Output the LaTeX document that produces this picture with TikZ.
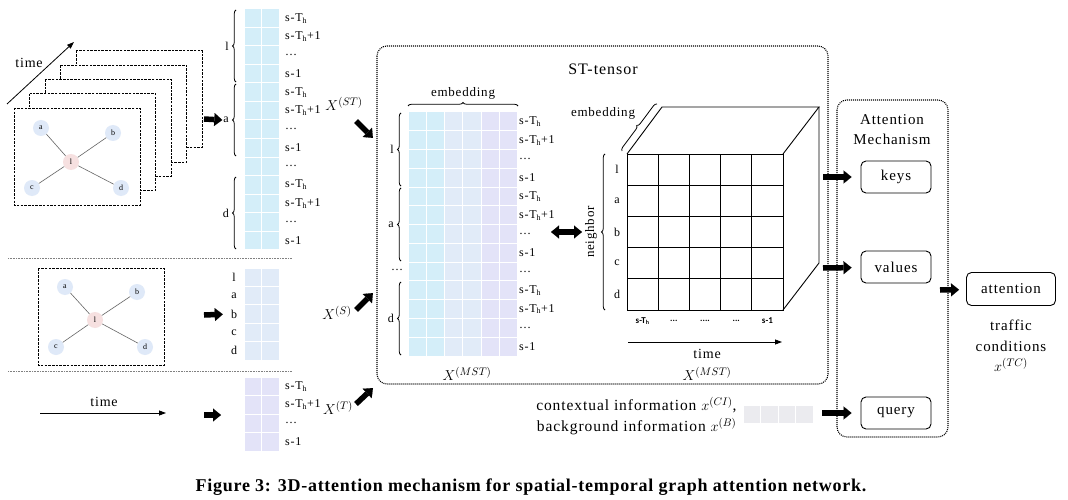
\documentclass[tikz,border=0pt]{standalone}
\usepackage{fontspec}
\setmainfont{Liberation Serif}[LetterSpace=6]
\newfontfamily\capfont{Liberation Serif}[LetterSpace=4]
\newfontfamily\tickfont{Carlito}
\usetikzlibrary{arrows.meta,decorations.pathreplacing,positioning}

\definecolor{cellcyan}{HTML}{D4EEF9}
\definecolor{cellblue}{HTML}{E1EBF8}
\definecolor{cellviolet}{HTML}{E3E3F8}
\definecolor{cellgray}{HTML}{EBEBEF}
\definecolor{vtxblue}{HTML}{DFE9F8}
\definecolor{vtxpink}{HTML}{F6E0E0}
\newcommand\tdots{...}
\newcommand\qdots{....}

\tikzset{
  vtx/.style={circle,fill=vtxblue,minimum size=16pt,inner sep=0pt,font=\fontsize{8}{9}\selectfont},
  hub/.style={vtx,fill=vtxpink},
  edge/.style={draw=black!60,line width=0.6pt},
  frame/.style={draw,fill=white,line width=0.8pt,dash pattern=on 2.5pt off 1.2pt},
  sep/.style={draw=gray,line width=0.6pt,dash pattern=on 0.8pt off 0.8pt},
  panel/.style={draw,line width=1.1pt,dash pattern=on 1pt off 1pt,rounded corners=10pt},
  cell/.style={draw=white,line width=1pt},
  fat/.style={line width=5.5pt,-{Triangle[length=8pt,width=13pt,line width=0.1pt]}},
  fatboth/.style={line width=5.5pt,{Triangle[length=8pt,width=13pt,line width=0.1pt]}-{Triangle[length=8pt,width=13pt,line width=0.1pt]}},
  grp/.style={decorate,decoration={brace,amplitude=3.5pt},line width=0.8pt},
  lab/.style={font=\fontsize{12}{13}\selectfont,anchor=west,inner sep=0pt},
  side/.style={font=\fontsize{12}{13}\selectfont,inner sep=1pt},
  mathlab/.style={font=\fontsize{15}{16}\selectfont,inner sep=0pt},
  word/.style={font=\fontsize{14}{16}\selectfont,inner sep=0pt},
  box/.style={draw,rounded corners=5pt,line width=0.9pt,minimum width=70pt,minimum height=32pt,font=\fontsize{15}{16}\selectfont},
  cubeline/.style={line width=0.9pt},
}

\begin{document}
\begin{tikzpicture}[x=1pt,y=-1pt]
\useasboundingbox (0,0) rectangle (1068,500);

% snapshots over time
\foreach \k in {4,3,2,1}
  \draw[frame] (14+15.5*\k,108-14.3*\k) rectangle ++(126,97);
\draw[frame] (14,108) rectangle ++(126,97);
\node[hub] (l1) at (71,162) {l};
\node[vtx] (a1) at (41,128) {a};
\node[vtx] (b1) at (113,133) {b};
\node[vtx] (c1) at (32,188) {c};
\node[vtx] (d1) at (121,188) {d};
\foreach \v in {a1,b1,c1,d1}
  \draw[edge] (l1) -- (\v);
\coordinate (tl1) at (7,104);
\coordinate (tl2) at (74,42);
\draw[line width=0.8pt,-{Triangle[length=7pt,width=5pt]}] (tl1) -- (tl2);
\node[word] (tlab1) at (29,63) {time};

% X^(ST)
\foreach \r in {0,...,12}
  \foreach \c in {0,1}
    \filldraw[cell,fill=cellcyan] (244+17.5*\c,9+18.5*\r) rectangle ++(17.5,18.5);
\foreach \t [count=\r from 0] in {s-T\textsubscript{h},s-T\textsubscript{h}+1,\dots,s-1,s-T\textsubscript{h},s-T\textsubscript{h}+1,\dots,s-1,\dots,s-T\textsubscript{h},s-T\textsubscript{h}+1,\dots,s-1}
  \node[lab] (st\r) at (285,18.25+18.5*\r) {\t};
\draw[grp] (236,82) -- (236,10);
\draw[grp] (236,156) -- (236,84);
\draw[grp] (236,249) -- (236,177);
\node[side,anchor=east] (gl) at (230,46) {l};
\node[side,anchor=east] (ga) at (230,120) {a};
\node[side,anchor=east] (gd) at (230,213) {d};
\coordinate (inST) at (204,119);
\draw[fat] (inST) -- (ga.west);
\node[mathlab] (xst) at (344,104) {$X^{(ST)}$};
\coordinate (oST1) at (356,121);
\coordinate (oST2) at (373,138);
\draw[fat] (oST1) -- (oST2);

\draw[sep] (8,258) -- (292,258);

% spatial graph
\draw[frame] (38,268) rectangle ++(126,97);
\node[hub] (l2) at (95,320) {l};
\node[vtx] (a2) at (65,287) {a};
\node[vtx] (b2) at (137,292) {b};
\node[vtx] (c2) at (56,347) {c};
\node[vtx] (d2) at (145,347) {d};
\foreach \v in {a2,b2,c2,d2}
  \draw[edge] (l2) -- (\v);
\foreach \r in {0,...,4}
  \foreach \c in {0,1}
    \filldraw[cell,fill=cellblue] (244+17.5*\c,268+18.4*\r) rectangle ++(17.5,18.4);
\foreach \t [count=\r from 0] in {l,a,b,c,d}
  \node[side] (sp\r) at (234,277.2+18.4*\r) {\t};
\coordinate (inS) at (204,315);
\draw[fat,shorten >=7pt] (inS) -- (sp2.west);
\node[mathlab] (xs) at (337,313) {$X^{(S)}$};
\coordinate (oS1) at (356,310);
\coordinate (oS2) at (373,293);
\draw[fat] (oS1) -- (oS2);

\draw[sep] (8,371) -- (292,371);

% temporal
\coordinate (tb1) at (40,413);
\coordinate (tb2) at (166,413);
\draw[line width=0.8pt,-{Triangle[length=7pt,width=5pt]}] (tb1) -- (tb2);
\node[word] (tlab2) at (104,402) {time};
\foreach \r in {0,...,3}
  \foreach \c in {0,1}
    \filldraw[cell,fill=cellviolet] (244+17.5*\c,377+18.5*\r) rectangle ++(17.5,18.5);
\foreach \t [count=\r from 0] in {s-T\textsubscript{h},s-T\textsubscript{h}+1,\dots,s-1}
  \node[lab] (tp\r) at (285,386.25+18.5*\r) {\t};
\coordinate (inT) at (204,415);
\coordinate (inT2) at (221,415);
\draw[fat] (inT) -- (inT2);
\node[mathlab] (xt) at (338,408) {$X^{(T)}$};
\coordinate (oT1) at (356,404);
\coordinate (oT2) at (373,388);
\draw[fat] (oT1) -- (oT2);

% ST-tensor
\draw[panel] (377,46) rectangle (828,384);
\node[font=\fontsize{16}{18}\selectfont] (sttitle) at (603,69) {ST-tensor};
\foreach \c/\col in {0/cellcyan,1/cellcyan,2/cellblue,3/cellblue,4/cellviolet,5/cellviolet}
  \foreach \r in {0,...,12}
    \filldraw[cell,fill=\col] (408+18.33*\c,112+18.77*\r) rectangle ++(18.33,18.77);
\foreach \t [count=\r from 0] in {s-T\textsubscript{h},s-T\textsubscript{h}+1,\dots,s-1,s-T\textsubscript{h},s-T\textsubscript{h}+1,\dots,s-1,\dots,s-T\textsubscript{h},s-T\textsubscript{h}+1,\dots,s-1}
  \node[lab] (mst\r) at (519,121.4+18.77*\r) {\t};
\draw[grp] (408,106) -- (518,106);
\node[font=\fontsize{13}{14}\selectfont] (emb1) at (463,93) {embedding};
\draw[grp] (401,186) -- (401,113);
\draw[grp] (401,261) -- (401,188);
\draw[grp] (401,355) -- (401,282);
\node[side,anchor=east] (ml) at (395,149.5) {l};
\node[side,anchor=east] (ma) at (395,224.6) {a};
\node[side] (mdots) at (397,270) {\dots};
\node[side,anchor=east] (md) at (395,318.5) {d};
\node[mathlab] (xmst1) at (467,374) {$X^{(MST)}$};

% cube
\foreach \i in {0,...,4}
  \foreach \j in {0,...,4}
    \draw[cubeline] (627+31.2*\i,154+31.2*\j) rectangle ++(31.2,31.2);
\draw[cubeline] (627,154) -- (662,107) -- (819,107) -- (783,154);
\draw[cubeline] (819,107) -- (819,263) -- (783,310);
\foreach \t [count=\r from 0] in {l,a,b,c,d}
  \node[side] (cr\r) at (617,169.6+31.2*\r) {\t};
\draw[grp] (605,310) -- (605,154);
\node[rotate=90,font=\fontsize{13}{14}\selectfont] (nb) at (591,232) {neighbor};
\foreach \t [count=\i from 0] in {s-T\textsubscript{h},\tdots,\qdots,\tdots,s-1}
  \node[font=\tickfont\bfseries\fontsize{9}{10}\selectfont] (cc\i) at (642.6+31.2*\i,321) {\t};
\draw[grp] (622,151) -- (657,104);
\node[font=\fontsize{13}{14}\selectfont] (emb2) at (603,113) {embedding};
\coordinate (ct1) at (628,342);
\coordinate (ct2) at (782,342);
\draw[line width=0.8pt,-{Triangle[length=7pt,width=5pt]}] (ct1) -- (ct2);
\node[word] (tlab3) at (707,354) {time};
\node[mathlab] (xmst2) at (707,374) {$X^{(MST)}$};
\coordinate (dbl1) at (551,232);
\coordinate (dbl2) at (582,232);
\draw[fatboth] (dbl1) -- (dbl2);

% attention mechanism
\draw[panel] (837,100) rectangle (948,437);
\node[align=center,font=\fontsize{15}{20}\selectfont] (amech) at (892,130) {Attention\\Mechanism};
\node[box] (keys) at (896,177) {keys};
\node[box] (values) at (896,267) {values};
\node[box] (query) at (896,413) {query};
\node[box,minimum width=89pt,minimum height=33pt] (attn) at (1011,289) {attention};
\node[align=center,font=\fontsize{15}{20.5}\selectfont] (tc) at (1011,346) {traffic\\conditions\\$x^{(TC)}$};
\coordinate (kIn) at (823,177);
\coordinate (vIn) at (823,268);
\coordinate (qIn) at (822,413);
\coordinate (aIn) at (940,290);
\draw[fat,shorten >=9pt] (kIn) -- (keys);
\draw[fat,shorten >=9pt] (vIn) -- (values);
\draw[fat,shorten >=9pt] (qIn) -- (query);
\draw[fat,shorten >=7pt] (aIn) -- (attn);

% context
\node[anchor=east,align=right,font=\fontsize{15.5}{21}\selectfont] (ctx) at (740,416) {contextual information $x^{(CI)}$,\\background information $x^{(B)}$};
\foreach \c in {0,...,3}
  \filldraw[cell,fill=cellgray] (743+17.5*\c,405) rectangle ++(17.5,18);

\node[font=\capfont\bfseries\fontsize{18}{20}\selectfont] (cap) at (531,487) {Figure 3: 3D-attention mechanism for spatial-temporal graph attention network.};
\end{tikzpicture}
\end{document}
